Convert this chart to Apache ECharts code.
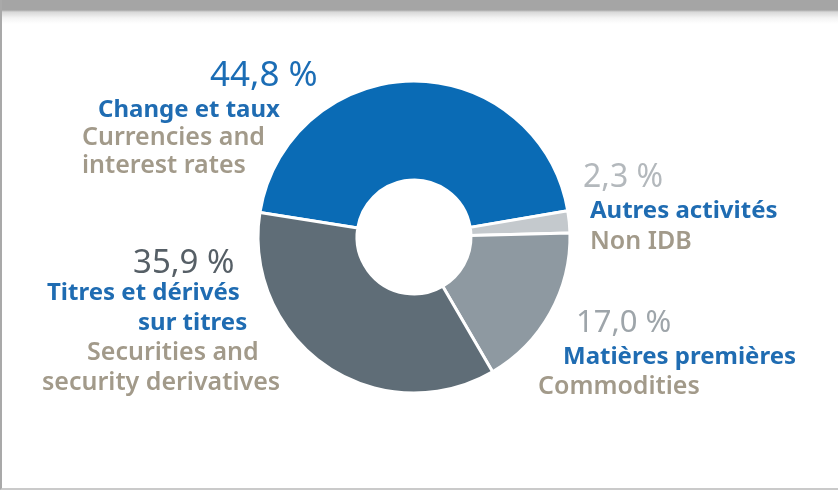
<!DOCTYPE html>
<html>
<head>
<meta charset="utf-8">
<script src="https://cdn.jsdelivr.net/npm/echarts@6/dist/echarts.min.js"></script>
<style>
  html, body { margin: 0; padding: 0; background: #fff; }
  #frame {
    position: relative; width: 838px; height: 490px; box-sizing: border-box;
    border-left: 2px solid #a9a9a9; border-bottom: 2px solid #cacaca;
    background: linear-gradient(to bottom, #a5a5a5 0px, #a5a5a5 10px, #d8d8d8 12px, #f4f4f4 18px, #fff 24px);
  }
  #main { position: absolute; left: -2px; top: 0; width: 838px; height: 490px; }
</style>
</head>
<body>
<div id="frame"><div id="main"></div></div>
<script>
// données
const categories = ['Change et taux', 'Autres activités', 'Matières premières', 'Titres et dérivés sur titres'];
const values = [44.8, 2.3, 17.0, 35.9];
const frLines = [['Change et taux'], ['Autres activités'], ['Matières premières'], ['Titres et dérivés', 'sur titres']];
const enLines = [['Currencies and', 'interest rates'], ['Non IDB'], ['Commodities'], ['Securities and', 'security derivatives']];

const sliceColors = ['#0a6bb5', '#c4c9cd', '#8e99a1', '#5f6d77'];
const numColors = ['#1b6db5', '#b3b8bc', '#9ea5aa', '#565f66'];
const blue = '#1f6cb2';
const tan = '#a29a8a';

// position des étiquettes (x, y du bloc, taille du %, décalage gauche et hauteur de chaque ligne)
const labelPos = [
  { x: 82, y: 56, num: 35, pad: [128, 16, 0, 0], lh: [40, 28, 28, 28] },
  { x: 583, y: 161, num: 32, pad: [0, 7, 7], lh: [34, 32, 30] },
  { x: 538, y: 305, num: 31, pad: [38, 25, 0], lh: [36, 32, 28] },
  { x: 42, y: 249, num: 33, pad: [91, 5, 96, 45, 0], lh: [30, 29, 30, 30, 30] }
];

const fmtPct = v => v.toFixed(1).replace('.', ',') + ' %';

const seriesData = values.map(function (v, i) {
  const lines = [fmtPct(v)].concat(frLines[i], enLines[i]);
  const rich = {};
  const p = labelPos[i];
  lines.forEach(function (t, k) {
    const isNum = k === 0;
    const isFr = k > 0 && k <= frLines[i].length;
    rich['l' + k] = {
      fontFamily: 'Noto Sans',
      fontSize: isNum ? p.num : (isFr ? 24 : 25),
      fontWeight: isNum ? 'normal' : (isFr ? 'bold' : 600),
      color: isNum ? numColors[i] : (isFr ? blue : tan),
      lineHeight: p.lh[k],
      padding: [0, 0, 0, p.pad[k]]
    };
  });
  return {
    name: categories[i],
    value: v,
    itemStyle: { color: sliceColors[i] },
    label: {
      rich: rich,
      formatter: lines.map((t, k) => '{l' + k + '|' + t + '}').join('\n')
    }
  };
});

const myChart = echarts.init(document.getElementById('main'));
const option = {
  animation: false,
  series: [
    {
      type: 'pie',
      center: [414, 237],
      radius: [57, 156],
      startAngle: 171,
      clockwise: true,
      avoidLabelOverlap: false,
      emphasis: { disabled: true },
      itemStyle: { borderColor: '#fff', borderWidth: 3 },
      label: { show: true, position: 'outside' },
      labelLine: { show: false },
      labelLayout: function (params) {
        const p = labelPos[params.dataIndex];
        return { x: p.x, y: p.y, align: 'left', verticalAlign: 'top' };
      },
      data: seriesData
    }
  ]
};
myChart.setOption(option);
</script>
</body>
</html>
